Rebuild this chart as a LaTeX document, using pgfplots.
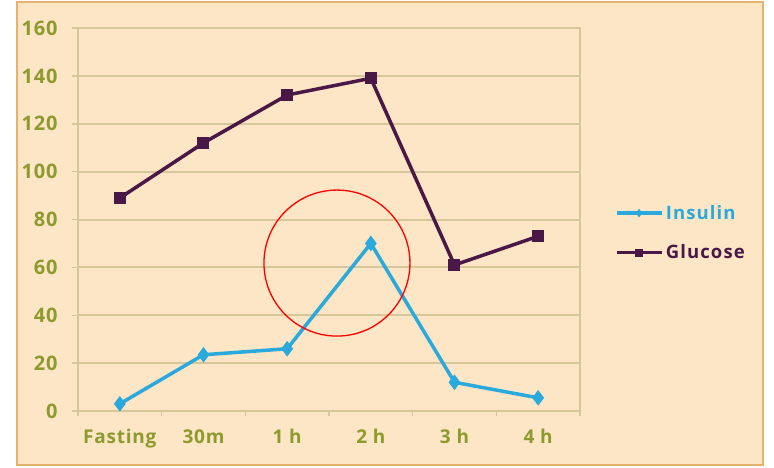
\documentclass[border=0pt]{standalone}
\usepackage{pgfplots}
\pgfplotsset{compat=1.18}
\usepackage{fontspec}
\setmainfont{Open Sans}
\newfontfamily\tickfont{Open Sans}[LetterSpace=4]
\newfontfamily\legfont{Open Sans}[LetterSpace=6]
\definecolor{panel}{HTML}{FCE6C6}
\definecolor{gridc}{HTML}{D6C79A}
\definecolor{tickc}{HTML}{8C9A2E}
\definecolor{insc}{HTML}{2AA9DC}
\definecolor{gluc}{HTML}{4A1846}
\definecolor{framec}{HTML}{E6B36E}
\begin{document}
\begin{tikzpicture}[x=1pt,y=1pt]
\fill[white] (0,0) rectangle (774,467);
\fill[panel] (17,2) rectangle (763,465);
\draw[framec, line width=1.5pt] (17,2) rectangle (763,465);
\begin{axis}[at={(78pt,56pt)}, anchor=south west, scale only axis,
  width=502pt, height=383pt,
  xmin=0, xmax=6, ymin=0, ymax=160,
  ytick={0,20,...,160},
  xtick={0.5,1.5,2.5,3.5,4.5,5.5},
  xticklabels={Fasting,30m,1 h,2 h,3 h,4 h},
  minor xtick={0,1,2,3,4,5,6},
  major x tick style={draw=none},
  minor tick length=5pt,
  major tick length=6pt,
  tick align=outside, tick pos=left,
  ymajorgrids,
  grid style={gridc, line width=2pt},
  axis line style={gridc, line width=2pt},
  tick style={gridc, line width=1.5pt},
  /pgf/number format/assume math mode=true,
  xticklabel style={font=\tickfont\bfseries\fontsize{19}{19}\selectfont, text=tickc, yshift=-9pt},
  yticklabel style={font=\tickfont\bfseries\fontsize{20}{20}\selectfont, text=tickc, xshift=-11pt},
  legend style={at={(axis description cs:1.064,0.465)}, anchor=west, draw=none, fill=none,
    font=\legfont\bfseries\fontsize{18.5}{18.5}\selectfont, row sep=20pt},
  legend cell align=left,
  legend image code/.code={\draw[mark repeat=2,mark phase=2,mark size=3.5pt,#1] plot coordinates {(0pt,0pt) (22pt,0pt) (45pt,0pt)};},
]
\addplot[insc, line width=3.5pt, mark=diamond*, mark size=7pt, mark options={fill=insc, line width=1pt}]
  coordinates {(0.5,3) (1.5,23.5) (2.5,26) (3.5,70) (4.5,12) (5.5,5.5)};
\addlegendentry{\textcolor{insc}{Insulin}}
\addplot[gluc, line width=3.5pt, mark=square*, mark size=5.5pt, mark options={fill=gluc, line width=1pt}]
  coordinates {(0.5,89) (1.5,112) (2.5,132) (3.5,139) (4.5,61) (5.5,73)};
\addlegendentry{\textcolor{gluc}{Glucose}}
\draw[red, line width=1.3pt] (axis cs:3.095,61.8) circle [radius=73pt];
\end{axis}
\end{tikzpicture}
\end{document}
